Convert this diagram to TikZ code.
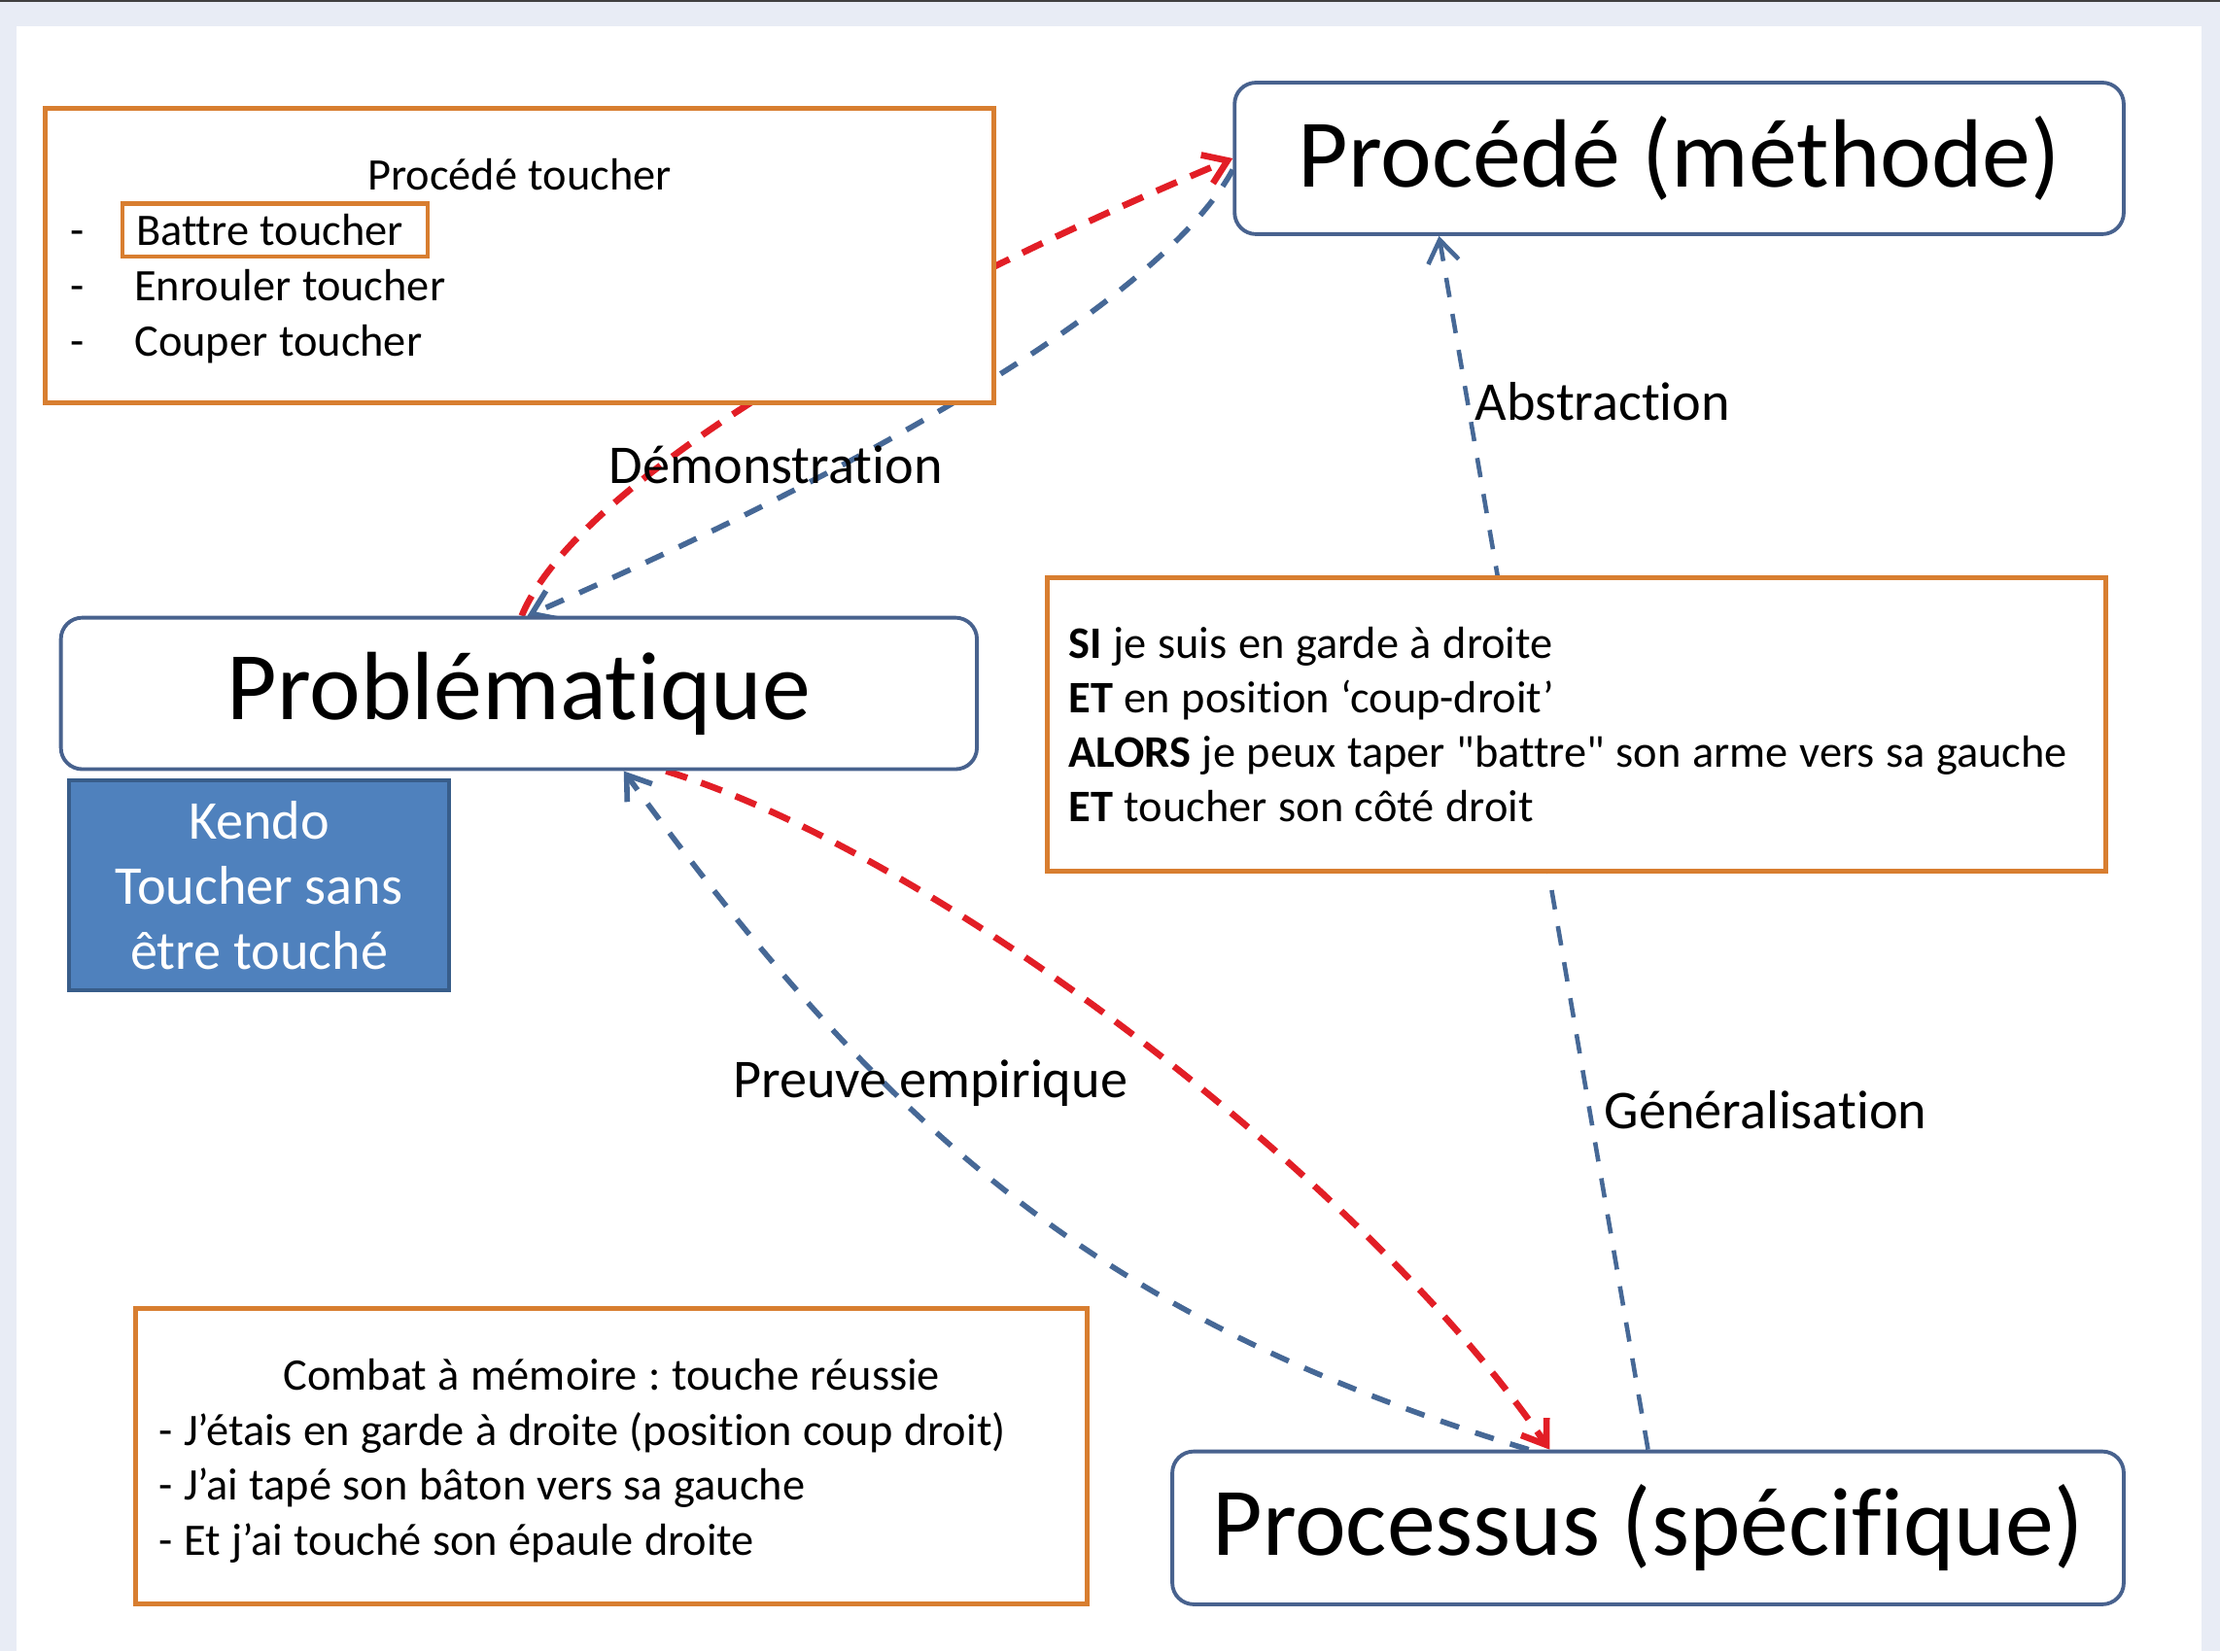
\documentclass[tikz,border=0pt]{standalone}
\usepackage{fontspec}
\setmainfont{Carlito}[Ligatures={CommonOff,TeXOff}]
\usepackage{tikz}
\usetikzlibrary{arrows.meta,calc,positioning}

\definecolor{fondbleu}{RGB}{232,236,245}
\definecolor{orangecadre}{RGB}{216,126,48}
\definecolor{bleucadre}{RGB}{72,98,142}
\definecolor{bleukendo}{RGB}{79,129,189}
\definecolor{bleukendobord}{RGB}{56,93,138}
\definecolor{rougefleche}{RGB}{226,30,38}
\definecolor{bleufleche}{RGB}{70,104,150}

\setlength{\fboxrule}{1.2pt}
\setlength{\fboxsep}{2.5pt}
\frenchspacing
\newcommand{\tiret}{\makebox[6.55mm][l]{-}}
\newcommand{\serre}{\spaceskip=0.25em\relax}

\pgfdeclarelayer{fond}
\pgfdeclarelayer{fleches}
\pgfsetlayers{fond,fleches,main}

\begin{document}
\begin{tikzpicture}[x=0.14566mm,y=0.14566mm]

\tikzset{cadre/.style={draw=bleucadre, line width=1.1pt, rounded corners=2.2mm, fill=white, inner sep=0pt, font=\fontsize{28.4}{34}\selectfont},
note/.style={draw=orangecadre, line width=1.4pt, fill=white, align=left, font=\fontsize{13.2}{16.2}\selectfont},
kendobox/.style={fill=bleukendo, draw=bleukendobord, line width=1.1pt, text=white, align=center, font=\fontsize{16}{19}\selectfont},
etiq/.style={font=\fontsize{16}{19}\selectfont, inner sep=0pt},
rouge/.style={draw=rougefleche, line width=1.9pt, dash pattern=on 6.5pt off 4.3pt},
bleu/.style={draw=bleufleche, line width=1.6pt, dash pattern=on 5.7pt off 5pt},
pointe/.style={-{Straight Barb[length=6.5pt,width=9pt]}}}

\useasboundingbox (0,0) rectangle (1568,1166.4);

\begin{pgfonlayer}{fond}
\fill[fondbleu] (0,0) rectangle (1568,1166.4);
\fill[white] (12,0) rectangle (1555,1148);
\draw[black!75, line width=0.6pt] (0,1165.5) -- (1568,1165.5);
\end{pgfonlayer}

% les trois niveaux
\node[cadre, minimum width=91.47mm, minimum height=15.59mm] (proc) at (1186,1054.5) {Procédé (méthode)};
\node[cadre, minimum width=94.24mm, minimum height=15.59mm] (prob) at (366.5,676.5) {Problématique};
\node[cadre, minimum width=97.88mm, minimum height=15.73mm] (pcs) at (1164,87) {Processus (spécifique)};

\node[kendobox, minimum width=39.04mm, minimum height=21.56mm] (kendo) at (183,541) {Kendo\\Toucher sans\\être touché};

% les notes
\node[note, minimum width=97.59mm, minimum height=30.3mm, text width=92.35mm, inner xsep=2.62mm] (toucher) at (367,986)
 {\serre\makebox[92.35mm]{\rule{0pt}{12.5pt}Procédé toucher}\\
  \makebox[5.07mm][l]{-}\fcolorbox{orangecadre}{white}{\hspace{1pt}Battre toucher\hspace{4pt}}\\
  \tiret Enrouler toucher\\
  \tiret Couper toucher};

\node[note, minimum width=108.81mm, minimum height=30.15mm, text width=104.5mm, inner xsep=2.15mm, font=\fontsize{13.2}{15.9}\selectfont] (regle) at (1113.5,654.5)
 {\serre\textbf{SI} je suis en garde à droite\\
  \textbf{ET} en position ‘coup-droit’\\
  \textbf{ALORS} je peux taper "battre" son arme vers sa gauche\\
  \textbf{ET} toucher son côté droit};

\node[note, minimum width=97.88mm, minimum height=30.44mm, text width=93.2mm, inner xsep=2.33mm] (combat) at (432,137.5)
 {\serre\makebox[93.2mm]{\rule{0pt}{11.8pt}Combat à mémoire : touche réussie}\\
  - J’étais en garde à droite (position coup droit)\\
  - J’ai tapé son bâton vers sa gauche\\
  - Et j’ai touché son épaule droite};

% les fleches
\begin{pgfonlayer}{fleches}
\draw[rouge, pointe] ($(prob.north)+(2,0)$) .. controls +(35,85) and +(-272,-114) .. (proc.west);
\draw[bleu, pointe] ($(proc.west)+(0,-8)$) .. controls +(-35,-65) and +(330,145) .. ($(prob.north)+(6,0)$);

\draw[rouge, pointe] ($(prob.south west)!0.66!(prob.south east)$) .. controls +(190,-58) and +(-130,190) .. ($(pcs.north west)!0.397!(pcs.north east)$);
\draw[bleu, pointe] ($(pcs.north west)!0.375!(pcs.north east)$) .. controls +(-292,89) and +(195,-268) .. ($(prob.south west)!0.614!(prob.south east)$);

\draw[bleu, line width=1.3pt, pointe] (pcs.north) -- ($(proc.south west)!0.231!(proc.south east)$);
\end{pgfonlayer}

\node[etiq] (demo) at (548,838) {Démonstration};
\node[etiq] (abstr) at (1132,883) {Abstraction};
\node[etiq] (gener) at (1247,382) {Généralisation};
\node[etiq] (preuve) at (657,401) {Preuve empirique};

\end{tikzpicture}
\end{document}
